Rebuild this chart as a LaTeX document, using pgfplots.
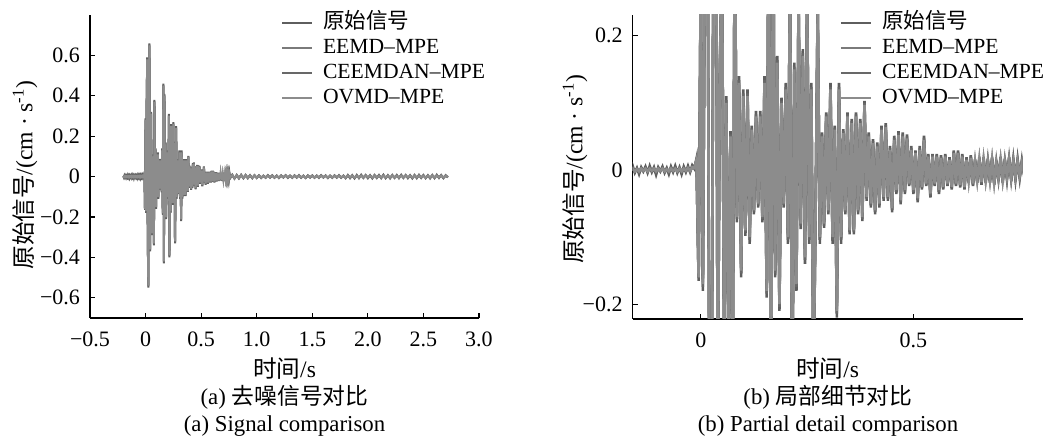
\documentclass[border=0pt]{standalone}
\usepackage{fontspec}
\setmainfont{Liberation Serif}
\newfontfamily\cjk{Noto Sans CJK SC}
\usepackage{pgfplots}
\pgfplotsset{compat=1.18}
\usepackage{pgfplotstable}
\definecolor{corig}{HTML}{5E5E5E}
\definecolor{ceemd}{HTML}{7A7A7A}
\definecolor{cceem}{HTML}{686868}
\definecolor{covmd}{HTML}{8C8C8C}
\pgfplotstableread{
t a b c d
-0.200 0.003 0.001 0.002 0.001
-0.195 -0.004 -0.002 -0.003 -0.002
-0.190 0.005 0.002 0.003 0.002
-0.185 -0.002 -0.001 -0.001 -0.001
-0.180 0.004 0.002 0.002 0.002
-0.175 -0.005 -0.002 -0.003 -0.002
-0.170 0.003 0.001 0.002 0.001
-0.165 -0.003 -0.001 -0.002 -0.001
-0.160 0.006 0.002 0.003 0.002
-0.155 -0.004 -0.002 -0.002 -0.002
-0.150 0.003 0.001 0.002 0.001
-0.145 -0.006 -0.002 -0.003 -0.002
-0.140 0.004 0.002 0.002 0.002
-0.135 -0.002 -0.001 -0.001 -0.001
-0.130 0.005 0.002 0.003 0.002
-0.125 -0.004 -0.002 -0.002 -0.002
-0.120 0.006 0.002 0.003 0.002
-0.115 -0.003 -0.001 -0.002 -0.001
-0.110 0.004 0.002 0.002 0.002
-0.105 -0.007 -0.002 -0.003 -0.002
-0.100 0.004 0.002 0.002 0.002
-0.095 -0.002 -0.001 -0.001 -0.001
-0.090 0.005 0.002 0.003 0.002
-0.085 -0.004 -0.002 -0.002 -0.002
-0.080 0.003 0.001 0.002 0.001
-0.075 -0.006 -0.002 -0.003 -0.002
-0.070 0.005 0.002 0.003 0.002
-0.065 -0.003 -0.001 -0.002 -0.001
-0.060 0.006 0.002 0.003 0.002
-0.055 -0.004 -0.002 -0.002 -0.002
-0.050 0.004 0.002 0.002 0.002
-0.045 -0.006 -0.002 -0.003 -0.002
-0.040 0.005 0.002 0.003 0.002
-0.035 -0.003 -0.001 -0.002 -0.001
-0.030 0.006 0.003 0.003 0.003
-0.025 -0.003 -0.001 -0.002 -0.001
-0.020 0.007 0.004 0.005 0.004
-0.015 0.002 0.003 0.003 0.003
-0.010 0.017 0.014 0.015 0.015
-0.005 -0.165 -0.158 -0.161 -0.160
0.000 0.290 0.277 0.284 0.280
0.005 -0.180 -0.167 -0.174 -0.170
0.010 0.360 0.347 0.354 0.350
0.015 0.590 0.577 0.584 0.580
0.020 -0.310 -0.297 -0.304 -0.300
0.025 -0.550 -0.537 -0.544 -0.540
0.030 0.410 0.397 0.404 0.400
0.035 0.660 0.647 0.654 0.650
0.040 -0.370 -0.357 -0.364 -0.360
0.045 0.160 0.147 0.154 0.150
0.050 0.320 0.307 0.314 0.310
0.055 -0.290 -0.277 -0.284 -0.280
0.060 0.110 0.097 0.104 0.100
0.065 -0.260 -0.247 -0.254 -0.250
0.070 0.058 0.048 0.053 0.050
0.075 -0.340 -0.327 -0.334 -0.330
0.080 0.380 0.367 0.374 0.370
0.085 -0.078 -0.068 -0.073 -0.070
0.090 0.140 0.127 0.134 0.130
0.095 -0.160 -0.147 -0.154 -0.150
0.100 0.120 0.107 0.114 0.110
0.105 -0.098 -0.088 -0.093 -0.090
0.110 0.120 0.107 0.114 0.110
0.115 -0.110 -0.097 -0.104 -0.100
0.120 0.066 0.058 0.062 0.060
0.125 -0.066 -0.058 -0.062 -0.060
0.130 0.088 0.078 0.083 0.080
0.135 -0.056 -0.048 -0.052 -0.050
0.140 0.088 0.078 0.083 0.080
0.145 -0.078 -0.068 -0.073 -0.070
0.150 0.140 0.127 0.134 0.130
0.155 -0.190 -0.177 -0.184 -0.180
0.160 0.460 0.447 0.454 0.450
0.165 -0.430 -0.417 -0.424 -0.420
0.170 0.410 0.397 0.404 0.400
0.175 -0.160 -0.147 -0.154 -0.150
0.180 0.170 0.157 0.164 0.160
0.185 -0.210 -0.197 -0.204 -0.200
0.190 0.108 0.098 0.103 0.100
0.195 -0.056 -0.048 -0.052 -0.050
0.200 0.130 0.117 0.124 0.120
0.205 -0.110 -0.097 -0.104 -0.100
0.210 0.310 0.297 0.304 0.300
0.215 -0.400 -0.387 -0.394 -0.390
0.220 0.160 0.147 0.154 0.150
0.225 -0.180 -0.167 -0.174 -0.170
0.230 0.260 0.247 0.254 0.250
0.235 -0.088 -0.078 -0.083 -0.080
0.240 0.180 0.167 0.174 0.170
0.245 -0.140 -0.127 -0.134 -0.130
0.250 0.270 0.257 0.264 0.260
0.255 -0.110 -0.097 -0.104 -0.100
0.260 0.130 0.117 0.124 0.120
0.265 -0.330 -0.317 -0.324 -0.320
0.270 -0.066 -0.058 -0.063 -0.060
0.275 0.250 0.237 0.244 0.240
0.280 -0.110 -0.097 -0.104 -0.100
0.285 0.056 0.048 0.053 0.050
0.290 -0.086 -0.078 -0.083 -0.080
0.295 0.086 0.078 0.083 0.080
0.300 -0.066 -0.058 -0.063 -0.060
0.305 0.130 0.117 0.124 0.120
0.310 -0.110 -0.097 -0.104 -0.100
0.315 0.066 0.058 0.063 0.060
0.320 -0.220 -0.207 -0.214 -0.210
0.325 0.130 0.117 0.124 0.120
0.330 -0.110 -0.097 -0.104 -0.100
0.335 0.061 0.053 0.058 0.055
0.340 -0.066 -0.058 -0.063 -0.060
0.345 0.086 0.078 0.083 0.080
0.350 -0.096 -0.088 -0.093 -0.090
0.355 0.076 0.068 0.073 0.070
0.360 -0.096 -0.088 -0.093 -0.090
0.365 0.086 0.078 0.083 0.080
0.370 -0.066 -0.058 -0.063 -0.060
0.375 0.076 0.068 0.073 0.070
0.380 -0.076 -0.068 -0.073 -0.070
0.385 0.103 0.095 0.100 0.097
0.390 -0.046 -0.038 -0.043 -0.040
0.395 0.056 0.048 0.053 0.050
0.400 -0.056 -0.048 -0.053 -0.050
0.405 0.046 0.038 0.043 0.040
0.410 -0.066 -0.058 -0.063 -0.060
0.415 0.041 0.033 0.038 0.035
0.420 -0.056 -0.048 -0.053 -0.050
0.425 0.066 0.058 0.063 0.060
0.430 -0.046 -0.038 -0.043 -0.040
0.435 0.070 0.062 0.067 0.064
0.440 -0.046 -0.038 -0.043 -0.040
0.445 0.036 0.028 0.033 0.030
0.450 -0.063 -0.055 -0.060 -0.057
0.455 0.051 0.043 0.048 0.045
0.460 -0.036 -0.028 -0.033 -0.030
0.465 0.058 0.050 0.055 0.052
0.470 -0.051 -0.043 -0.048 -0.045
0.475 0.056 0.048 0.053 0.050
0.480 -0.036 -0.028 -0.033 -0.030
0.485 0.053 0.045 0.050 0.047
0.490 -0.024 -0.020 -0.022 -0.020
0.495 0.036 0.028 0.033 0.030
0.500 -0.036 -0.028 -0.033 -0.030
0.505 0.029 0.025 0.027 0.025
0.510 -0.048 -0.040 -0.045 -0.042
0.515 0.036 0.028 0.033 0.030
0.520 -0.029 -0.025 -0.027 -0.025
0.525 0.051 0.043 0.048 0.045
0.530 -0.024 -0.020 -0.022 -0.020
0.535 0.024 0.020 0.022 0.020
0.540 -0.041 -0.033 -0.038 -0.035
0.545 0.024 0.020 0.022 0.020
0.550 -0.024 -0.020 -0.022 -0.020
0.555 0.024 0.020 0.022 0.020
0.560 -0.036 -0.028 -0.033 -0.030
0.565 0.022 0.018 0.020 0.018
0.570 -0.029 -0.025 -0.027 -0.025
0.575 0.024 0.020 0.022 0.020
0.580 -0.024 -0.020 -0.022 -0.020
0.585 0.019 0.015 0.017 0.015
0.590 -0.029 -0.025 -0.027 -0.025
0.595 0.029 0.025 0.027 0.025
0.600 -0.024 -0.020 -0.022 -0.020
0.605 0.029 0.025 0.027 0.025
0.610 -0.026 -0.022 -0.024 -0.022
0.615 0.024 0.020 0.022 0.020
0.620 -0.029 -0.025 -0.027 -0.025
0.625 0.019 0.015 0.017 0.015
0.630 -0.019 -0.015 -0.017 -0.015
0.635 0.022 0.018 0.020 0.018
0.640 -0.024 -0.020 -0.022 -0.020
0.645 0.016 0.012 0.014 0.012
0.650 -0.019 -0.015 -0.017 -0.015
0.655 0.019 0.015 0.017 0.015
0.660 -0.022 -0.018 -0.020 -0.018
0.665 0.019 0.015 0.017 0.015
0.670 -0.019 -0.015 -0.017 -0.015
0.675 0.016 0.012 0.014 0.012
0.680 -0.019 -0.015 -0.017 -0.015
0.685 0.019 0.015 0.017 0.015
0.690 -0.022 -0.018 -0.020 -0.018
0.695 0.014 0.010 0.012 0.010
0.700 -0.016 -0.012 -0.014 -0.012
0.705 0.019 0.015 0.017 0.015
0.710 -0.019 -0.015 -0.017 -0.015
0.715 0.016 0.012 0.014 0.012
0.720 -0.014 -0.010 -0.012 -0.010
0.725 0.019 0.015 0.017 0.015
0.730 -0.016 -0.012 -0.014 -0.012
0.735 0.016 0.012 0.014 0.012
0.740 -0.014 -0.010 -0.012 -0.010
0.745 0.016 0.012 0.014 0.012
0.750 -0.012 -0.008 -0.010 -0.008
0.755 0.014 0.010 0.012 0.010
0.760 -0.009 -0.005 -0.007 -0.005
0.78 0.009 0.007 0.008 0.007
0.80 -0.010 -0.008 -0.009 -0.008
0.82 0.008 0.006 0.007 0.006
0.84 -0.009 -0.007 -0.008 -0.007
0.86 0.009 0.007 0.008 0.007
0.88 -0.008 -0.006 -0.007 -0.006
0.90 0.008 0.006 0.007 0.006
0.92 -0.008 -0.006 -0.007 -0.006
0.94 0.007 0.005 0.006 0.005
0.96 -0.008 -0.006 -0.007 -0.006
0.98 0.007 0.005 0.006 0.005
1.00 -0.007 -0.005 -0.006 -0.005
1.02 0.006 0.004 0.005 0.004
1.04 -0.007 -0.005 -0.006 -0.005
1.06 0.005 0.003 0.004 0.003
1.08 -0.006 -0.004 -0.005 -0.004
1.10 0.007 0.005 0.006 0.005
1.12 -0.005 -0.003 -0.004 -0.003
1.14 0.006 0.004 0.005 0.004
1.16 -0.006 -0.004 -0.005 -0.004
1.18 0.005 0.003 0.004 0.003
1.20 -0.007 -0.005 -0.006 -0.005
1.22 0.006 0.004 0.005 0.004
1.24 -0.005 -0.003 -0.004 -0.003
1.26 0.007 0.005 0.006 0.005
1.28 -0.006 -0.004 -0.005 -0.004
1.30 0.005 0.003 0.004 0.003
1.32 -0.006 -0.004 -0.005 -0.004
1.34 0.006 0.004 0.005 0.004
1.36 -0.005 -0.003 -0.004 -0.003
1.38 0.007 0.005 0.006 0.005
1.40 -0.006 -0.004 -0.005 -0.004
1.42 0.005 0.003 0.004 0.003
1.44 -0.007 -0.005 -0.006 -0.005
1.46 0.006 0.004 0.005 0.004
1.48 -0.005 -0.003 -0.004 -0.003
1.50 0.006 0.004 0.005 0.004
1.52 -0.006 -0.004 -0.005 -0.004
1.54 0.005 0.003 0.004 0.003
1.56 -0.006 -0.004 -0.005 -0.004
1.58 0.007 0.005 0.006 0.005
1.60 -0.005 -0.003 -0.004 -0.003
1.62 0.006 0.004 0.005 0.004
1.64 -0.007 -0.005 -0.006 -0.005
1.66 0.005 0.003 0.004 0.003
1.68 -0.006 -0.004 -0.005 -0.004
1.70 0.006 0.004 0.005 0.004
1.72 -0.005 -0.003 -0.004 -0.003
1.74 0.007 0.005 0.006 0.005
1.76 -0.006 -0.004 -0.005 -0.004
1.78 0.005 0.003 0.004 0.003
1.80 -0.008 -0.005 -0.006 -0.005
1.82 0.008 0.005 0.006 0.005
1.84 -0.008 -0.004 -0.006 -0.004
1.86 0.007 0.004 0.005 0.004
1.88 -0.009 -0.005 -0.007 -0.005
1.90 0.008 0.004 0.006 0.004
1.92 -0.008 -0.005 -0.006 -0.005
1.94 0.009 0.005 0.007 0.005
1.96 -0.007 -0.004 -0.005 -0.004
1.98 0.008 0.005 0.006 0.005
2.00 -0.008 -0.004 -0.006 -0.004
2.02 0.007 0.004 0.005 0.004
2.04 -0.009 -0.005 -0.007 -0.005
2.06 0.008 0.005 0.006 0.005
2.08 -0.007 -0.004 -0.005 -0.004
2.10 0.008 0.004 0.006 0.004
2.12 -0.008 -0.005 -0.006 -0.005
2.14 0.009 0.005 0.007 0.005
2.16 -0.008 -0.004 -0.006 -0.004
2.18 0.007 0.004 0.005 0.004
2.20 -0.009 -0.005 -0.007 -0.005
2.22 0.008 0.005 0.006 0.005
2.24 -0.007 -0.004 -0.005 -0.004
2.26 0.008 0.004 0.006 0.004
2.28 -0.008 -0.005 -0.006 -0.005
2.30 0.009 0.005 0.007 0.005
2.32 -0.007 -0.004 -0.005 -0.004
2.34 0.008 0.005 0.006 0.005
2.36 -0.008 -0.004 -0.006 -0.004
2.38 0.007 0.004 0.005 0.004
2.40 -0.009 -0.005 -0.007 -0.005
2.42 0.008 0.005 0.006 0.005
2.44 -0.008 -0.004 -0.006 -0.004
2.46 0.009 0.005 0.007 0.005
2.48 -0.007 -0.004 -0.005 -0.004
2.50 0.008 0.004 0.006 0.004
2.52 -0.008 -0.005 -0.006 -0.005
2.54 0.007 0.004 0.005 0.004
2.56 -0.009 -0.005 -0.007 -0.005
2.58 0.008 0.005 0.006 0.005
2.60 -0.008 -0.004 -0.006 -0.004
2.62 0.009 0.005 0.007 0.005
2.64 -0.007 -0.004 -0.005 -0.004
2.66 0.008 0.005 0.006 0.005
2.68 -0.008 -0.004 -0.006 -0.004
2.70 0.007 0.004 0.005 0.004
2.72 -0.004 -0.002 -0.003 -0.002
}\sig

\pgfplotsset{
  myaxis/.style={
    scale only axis,
    axis lines=left,
    axis line style={-, line width=0.7pt, black},
    tick align=inside,
    major tick length=2.5pt,
    tick style={black, line width=0.6pt},
    tick label style={font=\fontsize{11}{12}\selectfont},
    xticklabel style={yshift=-3.5pt},
    yticklabel style={xshift=-1.5pt},
    label style={font=\fontsize{11.8}{13}\selectfont},
    legend style={draw=none, fill=none, inner sep=0pt, row sep=2pt,
      font=\fontsize{10.8}{12}\selectfont,
      nodes={inner ysep=0pt, inner xsep=2pt, text height=8pt, text depth=2.5pt}},
    legend cell align=left,
    legend image code/.code={\draw[##1, line width=1pt] (0pt,0pt) -- (15pt,0pt); \path (18pt,0pt);},
  }
}

\begin{document}
\begin{tikzpicture}
\useasboundingbox (0,0) rectangle (523pt,222.5pt);

\begin{axis}[myaxis,
  at={(45pt,63.5pt)}, anchor=south west,
  width=194.5pt, height=151.5pt,
  xmin=-0.5, xmax=3.0, ymin=-0.7, ymax=0.8,
  xtick={-0.5,0,0.5,1,1.5,2,2.5,3},
  xticklabels={−0.5,0,0.5,1.0,1.5,2.0,2.5,3.0},
  ytick={-0.6,-0.4,-0.2,0,0.2,0.4,0.6},
  yticklabels={−0.6,−0.4,−0.2,0,0.2,0.4,0.6},
  xlabel={{\cjk 时间}/s},
  ylabel={{\cjk 原始信号}/(cm · s\textsuperscript{-1})},
  x label style={at={(axis description cs:0.5,-0.198)}, anchor=base},
  y label style={at={(axis description cs:-0.167,0.472)}, anchor=center},
  legend style={at={(axis description cs:0.49,1.008)}, anchor=north west},
]
\addplot[corig, line width=1pt] table[x=t, y=a] {\sig};
\addlegendentry{{\cjk 原始信号}}
\addplot[ceemd, line width=1pt] table[x=t, y=b] {\sig};
\addlegendentry{EEMD--MPE}
\addplot[cceem, line width=1pt] table[x=t, y=c] {\sig};
\addlegendentry{CEEMDAN--MPE}
\addplot[covmd, line width=1pt] table[x=t, y=d] {\sig};
\addlegendentry{OVMD--MPE}
\end{axis}

\begin{axis}[myaxis,
  at={(316.35pt,63pt)}, anchor=south west,
  width=195pt, height=152pt,
  xmin=-0.16, xmax=0.757, ymin=-0.222, ymax=0.231,
  xtick={0,0.5},
  xticklabels={0,0.5},
  ytick={-0.2,0,0.2},
  yticklabels={−0.2,0,0.2},
  xlabel={{\cjk 时间}/s},
  ylabel={{\cjk 原始信号}/(cm · s\textsuperscript{-1})},
  x label style={at={(axis description cs:0.5,-0.194)}, anchor=base},
  y label style={at={(axis description cs:-0.148,0.493)}, anchor=center},
  legend style={at={(axis description cs:0.53,1.008)}, anchor=north west},
]
\addplot[corig, line width=1.3pt] table[x=t, y=a] {\sig};
\addlegendentry{{\cjk 原始信号}}
\addplot[ceemd, line width=1.3pt] table[x=t, y=b] {\sig};
\addlegendentry{EEMD--MPE}
\addplot[cceem, line width=1.3pt] table[x=t, y=c] {\sig};
\addlegendentry{CEEMDAN--MPE}
\addplot[covmd, line width=1.3pt] table[x=t, y=d] {\sig};
\addlegendentry{OVMD--MPE}
\end{axis}

\node[anchor=base, font=\fontsize{11.4}{13}\selectfont] at (142.25pt,20.2pt) {(a) {\cjk 去噪信号对比}};
\node[anchor=base, font=\fontsize{11.4}{13}\selectfont] at (142.25pt,6.5pt) {(a) Signal comparison};
\node[anchor=base, font=\fontsize{11.4}{13}\selectfont] at (414pt,20.2pt) {(b) {\cjk 局部细节对比}};
\node[anchor=base, font=\fontsize{11.4}{13}\selectfont] at (414pt,6.5pt) {(b) Partial detail comparison};
\end{tikzpicture}
\end{document}
